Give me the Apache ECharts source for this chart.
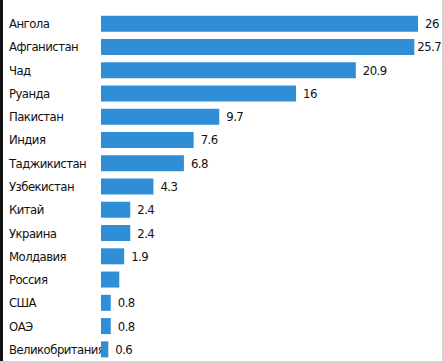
<!DOCTYPE html>
<html><head><meta charset="utf-8">
<script src="https://cdn.jsdelivr.net/npm/echarts@6/dist/echarts.min.js"></script>
<style>html,body{margin:0;padding:0;background:#fff}#c{width:444px;height:363px}
#c text{font-stretch:condensed !important;letter-spacing:-0.55px;}</style>
</head><body><div id="c"></div>
<script>
const categories = ["Ангола","Афганистан","Чад","Руанда","Пакистан","Индия","Таджикистан","Узбекистан","Китай","Украина","Молдавия","Россия","США","ОАЭ","Великобритания"];
const values = [26, 25.7, 20.9, 16, 9.7, 7.6, 6.8, 4.3, 2.4, 2.4, 1.9, 1.5, 0.8, 0.8, 0.6];
const valueLabels = ["26","25.7","20.9","16","9.7","7.6","6.8","4.3","2.4","2.4","1.9","","0.8","0.8","0.6"];

const FONT = '"DejaVu Sans Condensed", "Liberation Sans Narrow", "DejaVu Sans", sans-serif';
const chart = echarts.init(document.getElementById('c'), null, {renderer:'svg'});
chart.setOption({
  animation:false,
  backgroundColor:'#fff',
  grid:{left:101, right:26, top:12, bottom:2},
  xAxis:{type:'value', min:0, max:26, show:false},
  yAxis:{type:'category', data:categories, inverse:true,
    axisLine:{show:false}, axisTick:{show:false}, splitLine:{show:false},
    axisLabel:{align:'left', margin:92, color:'#111', fontSize:13, fontFamily:FONT}},
  series:[{type:'bar', barWidth:16,
    data: values.map((v,i)=>({value:v, label:{show: valueLabels[i] !== '', distance: i===1 ? 3 : 7}})),
    itemStyle:{color:'#2f8ed6'},
    label:{position:'right', distance:7, color:'#111', fontSize:13, fontFamily:FONT,
      formatter:(p)=>valueLabels[p.dataIndex]}
  }],
  graphic:[
    {type:'rect', shape:{x:0,y:0,width:3,height:363}, style:{fill:'#111'}, z:100},
    {type:'rect', shape:{x:442,y:0,width:2,height:363}, style:{fill:'#d4d4d4'}, z:100},
    {type:'rect', shape:{x:0,y:361,width:444,height:2}, style:{fill:'#d4d4d4'}, z:100}
  ]
});
</script></body></html>
